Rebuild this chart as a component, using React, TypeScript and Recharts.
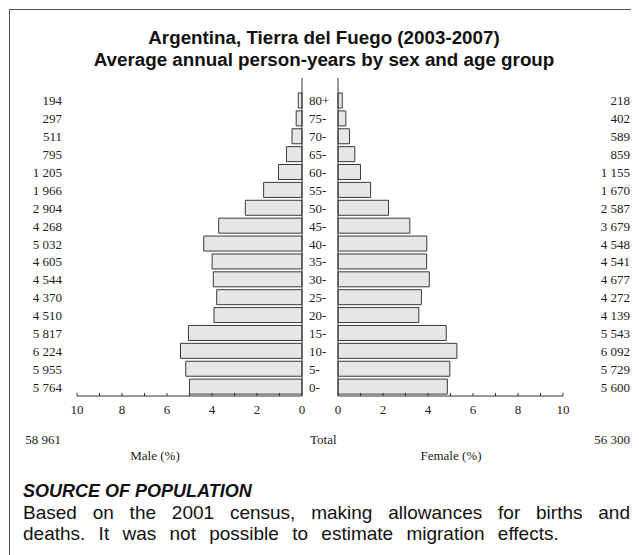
import React from "react";
import { BarChart, Bar, XAxis, YAxis, ReferenceLine } from "recharts";

// age groups, top to bottom as drawn
const AGES = ["80+", "75-", "70-", "65-", "60-", "55-", "50-", "45-", "40-", "35-", "30-", "25-", "20-", "15-", "10-", "5-", "0-"];
const MALE = [194, 297, 511, 795, 1205, 1966, 2904, 4268, 5032, 4605, 4544, 4370, 4510, 5817, 6224, 5955, 5764];
const FEMALE = [218, 402, 589, 859, 1155, 1670, 2587, 3679, 4548, 4541, 4677, 4272, 4139, 5543, 6092, 5729, 5600];
const MALE_TOTAL = 58961;
const FEMALE_TOTAL = 56300;
const X_TICKS = [0, 1, 2, 3, 4, 5, 6, 7, 8, 9, 10];

const TOTAL = MALE_TOTAL + FEMALE_TOTAL;
const rows = AGES.map((age, i) => ({
  age,
  male: (MALE[i] / TOTAL) * 100,
  female: (FEMALE[i] / TOTAL) * 100,
}));

const SERIF = "'Liberation Serif', 'Times New Roman', serif";
const SANS = "'Liberation Sans', Arial, Helvetica, sans-serif";
const INK = "#222";

const fmt = (n: number) => String(n).replace(/\B(?=(\d{3})+(?!\d))/g, " ");

function XTick(props: any) {
  const { x, y, payload } = props;
  const v = payload.value;
  return (
    <g>
      <line x1={x} x2={x} y1={y - 3} y2={y} stroke="#333" />
      {v % 2 === 0 && (
        <text x={x} y={y + 18} textAnchor="middle" fontSize={13} fontFamily={SERIF} fill={INK}>
          {v}
        </text>
      )}
    </g>
  );
}

function MaleTick(props: any) {
  const { y, payload } = props;
  const i = AGES.indexOf(payload.value);
  return (
    <text x={54} y={y + 4.5} textAnchor="end" fontSize={13} fontFamily={SERIF} fill={INK}>
      {fmt(MALE[i])}
    </text>
  );
}

function FemaleTick(props: any) {
  const { y, payload } = props;
  const i = AGES.indexOf(payload.value);
  return (
    <g>
      <text x={8} y={y + 4.5} textAnchor="start" fontSize={13} fontFamily={SERIF} fill={INK}>
        {payload.value}
      </text>
      <text x={329} y={y + 4.5} textAnchor="end" fontSize={13} fontFamily={SERIF} fill={INK}>
        {fmt(FEMALE[i])}
      </text>
    </g>
  );
}

export default function App() {
  return (
    <div style={{ position: "relative", width: 631, height: 547, overflow: "hidden", background: "#fff" }}>
      <div
        style={{
          position: "absolute",
          left: 1,
          top: 1,
          width: 1000,
          height: 1000,
          border: "1.5px solid #555",
        }}
      />
      <div
        style={{
          position: "absolute",
          left: -4,
          top: 19,
          width: 640,
          textAlign: "center",
          fontFamily: SANS,
          fontWeight: "bold",
          fontSize: 18.8,
          lineHeight: "22px",
          color: "#111",
        }}
      >
        Argentina, Tierra del Fuego (2003-2007)
        <br />
        Average annual person-years by sex and age group
      </div>

      <div style={{ position: "absolute", left: 0, top: 0 }}>
        <BarChart
          width={302}
          height={418}
          data={rows}
          layout="vertical"
          margin={{ top: 70, right: 8, left: 0, bottom: 0 }}
          barSize={15}
        >
          <XAxis
            type="number"
            domain={[0, 10]}
            ticks={X_TICKS}
            interval={0}
            reversed
            height={30}
            axisLine={{ stroke: "#333" }}
            tickLine={false}
            tickSize={0}
            tickMargin={0}
            tick={(p: any) => <XTick {...p} />}
          />
          <YAxis
            type="category"
            dataKey="age"
            width={69}
            interval={0}
            axisLine={false}
            tickLine={false}
            tickSize={0}
            tickMargin={0}
            padding={{ top: 14, bottom: 0 }}
            tick={(p: any) => <MaleTick {...p} />}
          />
          <ReferenceLine x={0} stroke="#333" ifOverflow="visible" />
          <Bar dataKey="male" fill="#e6e6e6" stroke="#3a3a3a" strokeWidth={1} isAnimationActive={false} />
        </BarChart>
      </div>

      <div style={{ position: "absolute", left: 293, top: 0 }}>
        <BarChart
          width={338}
          height={418}
          data={rows}
          layout="vertical"
          margin={{ top: 70, right: 76, left: 0, bottom: 0 }}
          barSize={15}
        >
          <XAxis
            type="number"
            domain={[0, 10]}
            ticks={X_TICKS}
            interval={0}
            height={30}
            axisLine={{ stroke: "#333" }}
            tickLine={false}
            tickSize={0}
            tickMargin={0}
            tick={(p: any) => <XTick {...p} />}
          />
          <YAxis
            type="category"
            dataKey="age"
            width={37}
            interval={0}
            axisLine={false}
            tickLine={false}
            tickSize={0}
            tickMargin={0}
            padding={{ top: 14, bottom: 0 }}
            tick={(p: any) => <FemaleTick {...p} />}
          />
          <ReferenceLine x={0} stroke="#333" ifOverflow="visible" />
          <Bar dataKey="female" fill="#e6e6e6" stroke="#3a3a3a" strokeWidth={1} isAnimationActive={false} />
        </BarChart>
      </div>

      <svg style={{ position: "absolute", left: 0, top: 0 }} width={631} height={470}>
        <g fontFamily={SERIF} fontSize={13} fill={INK}>
          <text x={53} y={436} textAnchor="end">{fmt(MALE_TOTAL)}</text>
          <text x={302} y={436}>Total</text>
          <text x={622} y={436} textAnchor="end">{fmt(FEMALE_TOTAL)}</text>
          <text x={147} y={452} textAnchor="middle">Male (%)</text>
          <text x={443} y={452} textAnchor="middle">Female (%)</text>
        </g>
      </svg>

      <div
        style={{
          position: "absolute",
          left: 15,
          top: 472,
          width: 607,
          fontFamily: SANS,
          color: "#111",
        }}
      >
        <div style={{ fontWeight: "bold", fontStyle: "italic", fontSize: 18, lineHeight: "22px" }}>
          SOURCE OF POPULATION
        </div>
        <div
          style={{
            fontSize: 19,
            lineHeight: "21px",
            wordSpacing: 6,
            textAlign: "justify",
            textAlignLast: "justify",
          }}
        >
          Based on the 2001 census, making allowances for births and
        </div>
        <div style={{ fontSize: 19, lineHeight: "21px", wordSpacing: 8 }}>
          deaths. It was not possible to estimate migration effects.
        </div>
      </div>
    </div>
  );
}
